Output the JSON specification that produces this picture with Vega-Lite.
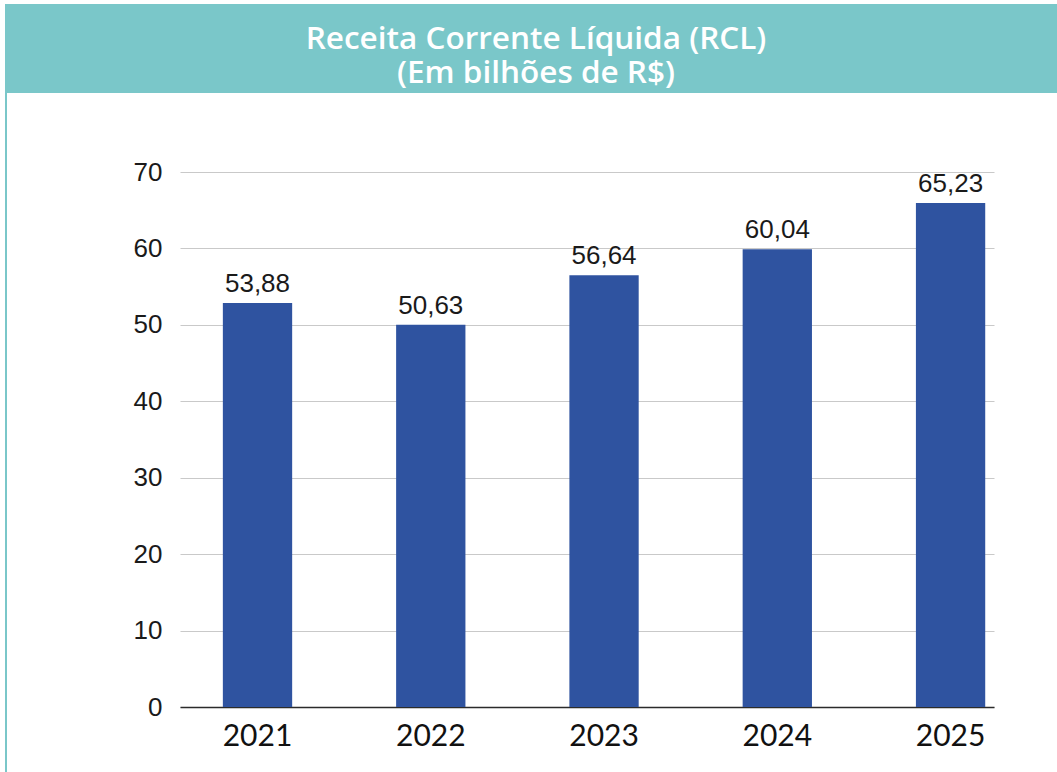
{
  "$schema": "https://vega.github.io/schema/vega-lite/v6.json",
  "padding": {"left": 5, "top": 4, "right": 0, "bottom": 0},
  "background": "white",
  "spacing": 0,
  "config": {"view": {"stroke": null}},
  "hconcat": [
    {
      "width": 2,
      "height": 780,
      "view": {"fill": "#7AC7C9", "stroke": null},
      "data": {"values": [{}]},
      "mark": {"type": "rect", "color": "#7AC7C9"}
    },
    {
      "spacing": 66,
      "vconcat": [
        {
          "width": 1050,
          "height": 89,
          "view": {"fill": "#7AC7C9", "stroke": null},
          "data": {"values": [{"titulo": "Receita Corrente Líquida (RCL)\n(Em bilhões de R$)"}]},
          "mark": {
            "type": "text",
            "lineBreak": "\n",
            "lineHeight": 34.5,
            "font": "Open Sans",
            "fontWeight": 600,
            "fontSize": 31.5,
            "color": "white",
            "align": "center",
            "baseline": "middle",
            "dx": 4,
            "dy": -9
          },
          "encoding": {"text": {"field": "titulo", "type": "nominal"}}
        },
        {
          "spacing": 0,
          "hconcat": [
            {
              "width": 113,
              "height": 10,
              "data": {"values": [{}]},
              "mark": {"type": "rect", "opacity": 0}
            },
            {
              "width": 814,
              "height": 535,
              "data": {
                "values": [
                  {"ano": "2021", "valor": 52.85, "rotulo": "53,88"},
                  {"ano": "2022", "valor": 50.0, "rotulo": "50,63"},
                  {"ano": "2023", "valor": 56.5, "rotulo": "56,64"},
                  {"ano": "2024", "valor": 59.9, "rotulo": "60,04"},
                  {"ano": "2025", "valor": 65.95, "rotulo": "65,23"}
                ]
              },
              "encoding": {
                "x": {
                  "field": "ano",
                  "type": "nominal",
                  "sort": null,
                  "scale": {"paddingInner": 0.6, "paddingOuter": 0.149, "align": 0.83},
                  "axis": {
                    "title": null,
                    "labelAngle": 0,
                    "labelFont": "Lato",
                    "labelFontSize": 30,
                    "labelColor": "#111111",
                    "labelPadding": 14,
                    "ticks": false,
                    "grid": false,
                    "domainColor": "#2b2b2b",
                    "domainWidth": 1.5
                  }
                },
                "y": {
                  "field": "valor",
                  "type": "quantitative",
                  "scale": {"domain": [0, 70], "nice": false},
                  "axis": {
                    "title": null,
                    "values": [0, 10, 20, 30, 40, 50, 60, 70],
                    "grid": true,
                    "gridColor": "#C9C9C9",
                    "gridWidth": 1,
                    "domain": false,
                    "ticks": false,
                    "labelFont": "Liberation Sans",
                    "labelFontSize": 26,
                    "labelColor": "#1a1a1a",
                    "labelPadding": 18,
                    "minExtent": 60,
                    "maxExtent": 60
                  }
                }
              },
              "layer": [
                {"mark": {"type": "bar", "color": "#2F53A0"}},
                {
                  "mark": {
                    "type": "text",
                    "font": "Liberation Sans",
                    "fontSize": 26,
                    "color": "#1a1a1a",
                    "baseline": "alphabetic",
                    "dy": -11
                  },
                  "encoding": {"text": {"field": "rotulo", "type": "nominal"}}
                }
              ]
            }
          ]
        }
      ]
    }
  ]
}
